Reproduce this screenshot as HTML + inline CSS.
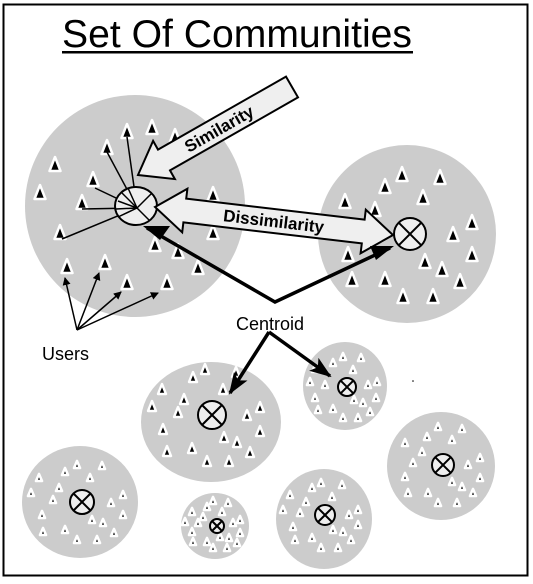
<!DOCTYPE html>
<html><head><meta charset="utf-8"><style>
html,body{margin:0;padding:0;background:#fff}
svg{display:block}
text{font-family:"Liberation Sans",Arial,sans-serif}
</style></head><body>
<svg width="533" height="584" viewBox="0 0 533 584" xmlns="http://www.w3.org/2000/svg">
<defs>
<g id="t"><path d="M0,-8 L5.5,6 L-5.5,6Z" fill="#000" stroke="#fff" stroke-width="2.5" stroke-linejoin="round"/></g>
<g id="s"><path d="M0,-6 L4,4 L-4,4Z" fill="#000" stroke="#fff" stroke-width="2.4" stroke-linejoin="round"/></g>
<g id="u"><path d="M0,-4 L3,3 L-3,3Z" fill="#000" stroke="#fff" stroke-width="2.6" stroke-linejoin="round"/></g>
<marker id="ah" markerWidth="8" markerHeight="8" refX="7" refY="4" orient="auto" markerUnits="userSpaceOnUse"><path d="M0,0 L8,4 L0,8Z" fill="#000"/></marker>
<marker id="bh" markerWidth="22" markerHeight="16" refX="20" refY="8" orient="auto" markerUnits="userSpaceOnUse"><path d="M0,0 L22,8 L0,16 L5,8Z" fill="#000"/></marker>
</defs>
<rect x="3.5" y="4.5" width="524" height="571" fill="#fff" stroke="#000" stroke-width="2"/>
<text x="62" y="47" font-size="39" textLength="350" lengthAdjust="spacingAndGlyphs">Set Of Communities</text>
<rect x="62" y="51" width="351" height="2.5" fill="#000"/>

<g fill="#cccccc">
<ellipse cx="135" cy="206" rx="110" ry="111"/>
<circle cx="407" cy="234" r="89"/>
<ellipse cx="211" cy="422" rx="70" ry="60"/>
<ellipse cx="345" cy="386" rx="42" ry="44"/>
<ellipse cx="80" cy="502" rx="58" ry="56"/>
<ellipse cx="215" cy="526" rx="34" ry="33"/>
<ellipse cx="324" cy="519" rx="48" ry="50"/>
<ellipse cx="441" cy="466" rx="54" ry="54"/>
</g>

<g>
<use href="#t" x="55" y="165"/><use href="#t" x="40" y="193"/><use href="#t" x="82" y="203"/><use href="#t" x="93" y="180"/>
<use href="#t" x="107" y="148"/><use href="#t" x="127" y="132"/><use href="#t" x="152" y="128"/><use href="#t" x="175" y="137"/>
<use href="#t" x="213" y="195"/><use href="#t" x="213" y="233"/><use href="#t" x="60" y="233"/><use href="#t" x="67" y="267"/>
<use href="#t" x="105" y="263"/><use href="#t" x="127" y="283"/><use href="#t" x="167" y="283"/><use href="#t" x="155" y="245"/>
<use href="#t" x="178" y="252"/><use href="#t" x="198" y="268"/>
</g>
<g>
<use href="#t" x="402" y="175"/><use href="#t" x="440" y="178"/><use href="#t" x="385" y="187"/><use href="#t" x="423" y="198"/>
<use href="#t" x="345" y="202"/><use href="#t" x="375" y="210"/><use href="#t" x="472" y="223"/><use href="#t" x="453" y="235"/>
<use href="#t" x="472" y="255"/><use href="#t" x="348" y="255"/><use href="#t" x="425" y="262"/><use href="#t" x="442" y="270"/>
<use href="#t" x="460" y="282"/><use href="#t" x="352" y="280"/><use href="#t" x="385" y="280"/><use href="#t" x="403" y="297"/>
<use href="#t" x="433" y="297"/>
</g>
<g>
<use href="#s" x="205" y="370"/><use href="#s" x="193" y="378"/><use href="#s" x="236" y="373"/><use href="#s" x="223" y="390"/>
<use href="#s" x="162" y="390"/><use href="#s" x="184" y="400"/><use href="#s" x="152" y="407"/><use href="#s" x="178" y="413"/>
<use href="#s" x="247" y="416"/><use href="#s" x="260" y="408"/><use href="#s" x="163" y="430"/><use href="#s" x="224" y="438"/>
<use href="#s" x="237" y="443"/><use href="#s" x="260" y="432"/><use href="#s" x="167" y="452"/><use href="#s" x="192" y="449"/>
<use href="#s" x="250" y="453"/><use href="#s" x="207" y="462"/><use href="#s" x="229" y="462"/>
</g>
<g>
<use href="#u" x="343" y="357"/><use href="#u" x="361" y="358"/><use href="#u" x="333" y="363"/><use href="#u" x="315" y="369"/>
<use href="#u" x="353" y="370"/><use href="#u" x="310" y="382"/><use href="#u" x="325" y="385"/><use href="#u" x="368" y="385"/>
<use href="#u" x="377" y="382"/><use href="#u" x="315" y="398"/><use href="#u" x="354" y="400"/><use href="#u" x="363" y="403"/>
<use href="#u" x="376" y="398"/><use href="#u" x="318" y="410"/><use href="#u" x="333" y="409"/><use href="#u" x="370" y="412"/>
<use href="#u" x="343" y="418"/><use href="#u" x="358" y="418"/>

<use href="#u" x="77" y="465"/><use href="#u" x="102" y="466"/><use href="#u" x="65" y="472"/><use href="#u" x="90" y="478"/>
<use href="#u" x="39" y="478"/><use href="#u" x="59" y="488"/><use href="#u" x="31" y="493"/><use href="#u" x="53" y="500"/>
<use href="#u" x="123" y="495"/><use href="#u" x="111" y="503"/><use href="#u" x="42" y="515"/><use href="#u" x="92" y="520"/>
<use href="#u" x="103" y="523"/><use href="#u" x="123" y="515"/><use href="#u" x="43" y="532"/><use href="#u" x="65" y="530"/>
<use href="#u" x="114" y="533"/><use href="#u" x="77" y="540"/><use href="#u" x="97" y="540"/>

<use href="#u" x="213" y="501"/><use href="#u" x="207" y="507"/><use href="#u" x="228" y="503"/><use href="#u" x="222" y="512"/>
<use href="#u" x="192" y="512"/><use href="#u" x="203" y="517"/><use href="#u" x="185" y="522"/><use href="#u" x="198" y="523"/>
<use href="#u" x="240" y="520"/><use href="#u" x="233" y="523"/><use href="#u" x="192" y="532"/><use href="#u" x="220" y="537"/>
<use href="#u" x="229" y="538"/><use href="#u" x="240" y="533"/><use href="#u" x="193" y="542"/><use href="#u" x="207" y="542"/>
<use href="#u" x="237" y="543"/><use href="#u" x="213" y="548"/><use href="#u" x="227" y="548"/>

<use href="#u" x="321" y="483"/><use href="#u" x="342" y="485"/><use href="#u" x="312" y="488"/><use href="#u" x="332" y="497"/>
<use href="#u" x="290" y="495"/><use href="#u" x="306" y="502"/><use href="#u" x="283" y="510"/><use href="#u" x="300" y="513"/>
<use href="#u" x="358" y="510"/><use href="#u" x="349" y="515"/><use href="#u" x="293" y="527"/><use href="#u" x="333" y="530"/>
<use href="#u" x="343" y="532"/><use href="#u" x="358" y="525"/><use href="#u" x="295" y="540"/><use href="#u" x="312" y="538"/>
<use href="#u" x="351" y="540"/><use href="#u" x="321" y="548"/><use href="#u" x="338" y="548"/>

<use href="#u" x="438" y="427"/><use href="#u" x="462" y="429"/><use href="#u" x="427" y="437"/><use href="#u" x="452" y="440"/>
<use href="#u" x="405" y="443"/><use href="#u" x="422" y="452"/><use href="#u" x="413" y="463"/><use href="#u" x="480" y="458"/>
<use href="#u" x="468" y="465"/><use href="#u" x="452" y="482"/><use href="#u" x="462" y="487"/><use href="#u" x="405" y="477"/>
<use href="#u" x="480" y="478"/><use href="#u" x="408" y="493"/><use href="#u" x="428" y="493"/><use href="#u" x="473" y="493"/>
<use href="#u" x="438" y="503"/><use href="#u" x="457" y="503"/>
</g>
<circle cx="413" cy="381" r="0.8" fill="#000"/>

<g stroke="#000" stroke-width="1.5">
<line x1="137" y1="208" x2="107" y2="152"/><line x1="137" y1="208" x2="127" y2="137"/>
<line x1="137" y1="208" x2="95" y2="188"/><line x1="137" y1="208" x2="82" y2="209"/>
<line x1="137" y1="208" x2="62" y2="239"/>
</g>
<ellipse cx="136" cy="206" rx="21" ry="19" fill="#eee" stroke="#000" stroke-width="2"/>
<g stroke="#000" stroke-width="1.5">
<line x1="137" y1="208" x2="122" y2="193"/><line x1="137" y1="208" x2="128" y2="188"/>
<line x1="137" y1="208" x2="118" y2="201"/><line x1="137" y1="208" x2="116" y2="209"/>
<line x1="137" y1="208" x2="118" y2="217"/><line x1="137" y1="208" x2="152" y2="193"/>
<line x1="137" y1="208" x2="150" y2="221"/>
</g>

<g stroke="#000" stroke-width="1.5" marker-end="url(#ah)">
<line x1="77" y1="330" x2="65" y2="278"/><line x1="77" y1="330" x2="99" y2="273"/>
<line x1="77" y1="330" x2="121" y2="292"/><line x1="77" y1="330" x2="158" y2="293"/>
</g>
<text x="42" y="360" font-size="18">Users</text>

<polygon points="298,97.4 286,76.6 158,149.6 153.1,140.9 138,175 174.9,179.1 170,170.4" fill="#efefef" stroke="#000" stroke-width="2"/>
<text x="0" y="0" font-size="17" font-weight="bold" transform="translate(222,134) rotate(-29.7)" text-anchor="middle">Similarity</text>

<polygon points="155,207 187.4,188.7 186.2,198.6 364.6,219.6 365.8,209.7 393,235 360.6,253.3 361.8,243.4 183.4,222.4 182.2,232.3" fill="#efefef" stroke="#000" stroke-width="2"/>
<text x="0" y="0" font-size="17" font-weight="bold" transform="translate(273,227) rotate(6.7)" text-anchor="middle">Dissimilarity</text>

<g stroke="#000" stroke-width="2" fill="#eee">
<circle cx="410" cy="234" r="16"/>
<line x1="398.7" y1="222.7" x2="421.3" y2="245.3"/><line x1="421.3" y1="222.7" x2="398.7" y2="245.3"/>
<circle cx="212" cy="415" r="14"/>
<line x1="202" y1="405" x2="222" y2="425"/><line x1="222" y1="405" x2="202" y2="425"/>
<circle cx="347" cy="387" r="9"/>
<line x1="340.6" y1="380.6" x2="353.4" y2="393.4"/><line x1="353.4" y1="380.6" x2="340.6" y2="393.4"/>
<circle cx="82" cy="502" r="12"/>
<line x1="73.5" y1="493.5" x2="90.5" y2="510.5"/><line x1="90.5" y1="493.5" x2="73.5" y2="510.5"/>
<circle cx="217" cy="526" r="7"/>
<line x1="212" y1="521" x2="222" y2="531"/><line x1="222" y1="521" x2="212" y2="531"/>
<circle cx="325" cy="515" r="10"/>
<line x1="318" y1="508" x2="332" y2="522"/><line x1="332" y1="508" x2="318" y2="522"/>
<circle cx="443" cy="465" r="11"/>
<line x1="435.2" y1="457.2" x2="450.8" y2="472.8"/><line x1="450.8" y1="457.2" x2="435.2" y2="472.8"/>
</g>

<polyline points="147,228 275,302 390,248" fill="none" stroke="#000" stroke-width="3.5"/>
<path d="M143,226 L170,226 L160,240Z" fill="#000"/>
<path d="M394,246 L370,246 L376,260Z" fill="#000"/>
<g stroke="#000" stroke-width="3.5">
<line x1="269" y1="332" x2="230" y2="393" marker-end="url(#bh)"/>
<line x1="269" y1="332" x2="330" y2="376" marker-end="url(#bh)"/>
</g>
<text x="236" y="330" font-size="18">Centroid</text>
</svg>
</body></html>
